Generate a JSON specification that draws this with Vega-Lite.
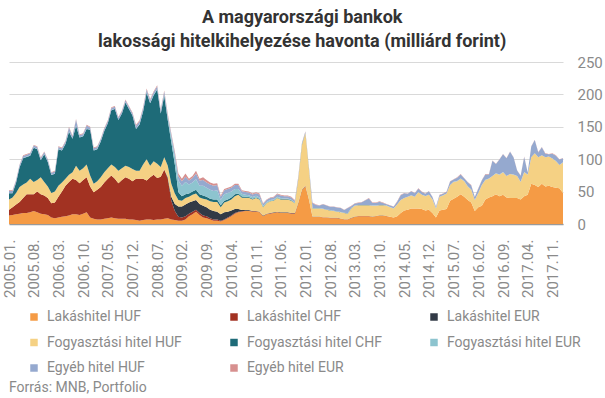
{
  "$schema": "https://vega.github.io/schema/vega-lite/v6.json",
  "background": "white",
  "padding": {"left": 2, "top": 9, "right": 0, "bottom": 0},
  "title": {
    "text": ["A magyarországi bankok", "lakossági hitelkihelyezése havonta (milliárd forint)"],
    "font": "Roboto", "fontSize": 18, "fontWeight": "bold", "color": "#333333",
    "lineHeight": 24, "anchor": "middle", "frame": "bounds", "offset": 4
  },
  "spacing": 6,
  "resolve": {"legend": {"color": "independent"}, "scale": {"color": "independent"}},
  "vconcat": [
    {
      "width": 554,
      "height": 162,
      "data": {"values": [
        {"d":"2005.01.","a":13,"b":9,"c":0,"e":16,"f":9.5,"g":0.5,"h":3,"i":1},
        {"d":"2005.02.","a":14,"b":12,"c":0,"e":15,"f":6.5,"g":0.5,"h":3,"i":1},
        {"d":"2005.03.","a":15,"b":15,"c":0,"e":18,"f":15.5,"g":0.5,"h":3,"i":1},
        {"d":"2005.04.","a":16,"b":18,"c":0,"e":23,"f":30.5,"g":0.5,"h":3,"i":1},
        {"d":"2005.05.","a":17,"b":23,"c":0,"e":21,"f":40.5,"g":0.5,"h":3,"i":1},
        {"d":"2005.06.","a":17,"b":29,"c":0,"e":18,"f":39.5,"g":0.5,"h":3,"i":1},
        {"d":"2005.07.","a":18,"b":28,"c":0,"e":24,"f":35.5,"g":0.5,"h":3,"i":1},
        {"d":"2005.08.","a":20,"b":26,"c":0,"e":19,"f":52.5,"g":0.5,"h":3,"i":1},
        {"d":"2005.09.","a":18,"b":32,"c":0,"e":18,"f":47.5,"g":0.5,"h":3,"i":1},
        {"d":"2005.10.","a":16,"b":30,"c":0,"e":26,"f":26.5,"g":0.5,"h":3,"i":1},
        {"d":"2005.11.","a":15,"b":29,"c":0,"e":21,"f":42.5,"g":0.5,"h":3,"i":1},
        {"d":"2005.12.","a":14,"b":26,"c":0,"e":18,"f":37.5,"g":0.5,"h":3,"i":1},
        {"d":"2006.01.","a":10,"b":22,"c":0,"e":16,"f":27.5,"g":0.5,"h":3,"i":1},
        {"d":"2006.02.","a":9,"b":24,"c":0,"e":17,"f":27.5,"g":0.5,"h":3,"i":1},
        {"d":"2006.03.","a":10,"b":32,"c":0,"e":17,"f":56.5,"g":0.5,"h":3,"i":1},
        {"d":"2006.04.","a":11,"b":39,"c":0,"e":14,"f":49.5,"g":0.5,"h":3,"i":1},
        {"d":"2006.05.","a":12,"b":47,"c":0,"e":11,"f":53.5,"g":0.5,"h":3,"i":1},
        {"d":"2006.06.","a":13,"b":52,"c":0,"e":11,"f":66.5,"g":0.5,"h":6,"i":1},
        {"d":"2006.07.","a":15,"b":55,"c":0,"e":10,"f":51.5,"g":0.5,"h":3,"i":1},
        {"d":"2006.08.","a":15,"b":53,"c":0,"e":22,"f":61.5,"g":0.5,"h":9,"i":1},
        {"d":"2006.09.","a":14,"b":49,"c":0,"e":19,"f":51.5,"g":0.5,"h":3,"i":1},
        {"d":"2006.10.","a":16,"b":52,"c":0,"e":18,"f":49.5,"g":0.5,"h":3,"i":1},
        {"d":"2006.11.","a":18,"b":54,"c":0,"e":20,"f":54.5,"g":0.5,"h":5,"i":1},
        {"d":"2006.12.","a":10,"b":48,"c":0,"e":17,"f":70.5,"g":0.5,"h":3,"i":1},
        {"d":"2007.01.","a":8,"b":41,"c":0,"e":13,"f":51.5,"g":0.5,"h":3,"i":1},
        {"d":"2007.02.","a":7,"b":46,"c":0,"e":13,"f":49.5,"g":0.5,"h":3,"i":1},
        {"d":"2007.03.","a":7,"b":50,"c":0,"e":15,"f":55.5,"g":0.5,"h":3,"i":1},
        {"d":"2007.04.","a":8,"b":56,"c":0,"e":16,"f":63.5,"g":0.5,"h":3,"i":1},
        {"d":"2007.05.","a":9,"b":61,"c":0,"e":16,"f":69.5,"g":0.5,"h":3,"i":1},
        {"d":"2007.06.","a":10,"b":65,"c":0,"e":17,"f":83.5,"g":0.5,"h":3,"i":1},
        {"d":"2007.07.","a":9,"b":61,"c":0,"e":18,"f":89.5,"g":0.5,"h":3,"i":1},
        {"d":"2007.08.","a":8,"b":55,"c":0,"e":19,"f":78.5,"g":0.5,"h":3,"i":1},
        {"d":"2007.09.","a":8,"b":60,"c":0,"e":18,"f":84.5,"g":0.5,"h":3,"i":1},
        {"d":"2007.10.","a":8,"b":64,"c":0,"e":18,"f":97.5,"g":0.5,"h":3,"i":1},
        {"d":"2007.11.","a":7,"b":63,"c":0,"e":18,"f":89.5,"g":0.5,"h":3,"i":1},
        {"d":"2007.12.","a":7,"b":59,"c":0,"e":19,"f":82.5,"g":0.5,"h":3,"i":1},
        {"d":"2008.01.","a":6,"b":64,"c":0,"e":12,"f":64.5,"g":1,"h":4,"i":1.5},
        {"d":"2008.02.","a":5,"b":65,"c":0,"e":12,"f":71.5,"g":1,"h":4,"i":1.5},
        {"d":"2008.03.","a":6,"b":64,"c":0,"e":22,"f":81.5,"g":1,"h":4,"i":1.5},
        {"d":"2008.04.","a":7,"b":60,"c":0,"e":33,"f":102.5,"g":1,"h":4,"i":1.5},
        {"d":"2008.05.","a":7,"b":65,"c":0,"e":18,"f":96.5,"g":1,"h":4,"i":1.5},
        {"d":"2008.06.","a":6,"b":70,"c":0,"e":21,"f":101.5,"g":1,"h":4,"i":1.5},
        {"d":"2008.07.","a":7,"b":64,"c":0,"e":22,"f":114.5,"g":1,"h":4,"i":1.5},
        {"d":"2008.08.","a":7,"b":66,"c":0,"e":15,"f":82.5,"g":1,"h":4,"i":1.5},
        {"d":"2008.09.","a":8,"b":76,"c":0,"e":19,"f":95,"g":2,"h":4.5,"i":1.5},
        {"d":"2008.10.","a":9,"b":61,"c":2,"e":18,"f":70,"g":4,"h":4,"i":2},
        {"d":"2008.11.","a":7,"b":29,"c":6,"e":20,"f":64,"g":8,"h":4,"i":2},
        {"d":"2008.12.","a":6,"b":14,"c":11,"e":16,"f":45,"g":12,"h":5,"i":3},
        {"d":"2009.01.","a":5,"b":6,"c":16,"e":10,"f":12,"g":18,"h":7,"i":4},
        {"d":"2009.02.","a":5,"b":5,"c":17,"e":9,"f":7,"g":16,"h":7,"i":4},
        {"d":"2009.03.","a":7,"b":5,"c":18,"e":10,"f":6,"g":19,"h":8,"i":5},
        {"d":"2009.04.","a":12,"b":4,"c":17,"e":9,"f":5,"g":14,"h":6,"i":3},
        {"d":"2009.05.","a":15,"b":4,"c":16,"e":10,"f":5,"g":14,"h":7,"i":3},
        {"d":"2009.06.","a":19,"b":3,"c":15,"e":10,"f":6,"g":16,"h":9,"i":4},
        {"d":"2009.07.","a":14,"b":3,"c":14,"e":10,"f":5,"g":13,"h":8,"i":3},
        {"d":"2009.08.","a":10,"b":3,"c":15,"e":11,"f":5,"g":15,"h":9,"i":4},
        {"d":"2009.09.","a":9,"b":3,"c":14,"e":12,"f":4,"g":14,"h":8,"i":4},
        {"d":"2009.10.","a":7,"b":2,"c":13,"e":13,"f":4,"g":14,"h":8,"i":3},
        {"d":"2009.11.","a":5,"b":2,"c":13,"e":14,"f":4,"g":13,"h":8,"i":3},
        {"d":"2009.12.","a":5,"b":2,"c":12,"e":15,"f":4,"g":14,"h":8,"i":3},
        {"d":"2010.01.","a":4,"b":1,"c":10,"e":11,"f":3,"g":8,"h":5,"i":2},
        {"d":"2010.02.","a":6,"b":1,"c":11,"e":15,"f":3,"g":10,"h":6,"i":2},
        {"d":"2010.03.","a":9,"b":1,"c":9,"e":16,"f":3,"g":10,"h":6,"i":2},
        {"d":"2010.04.","a":12,"b":1,"c":8,"e":17,"f":3,"g":9,"h":6,"i":2},
        {"d":"2010.05.","a":16,"b":1,"c":6,"e":20,"f":3,"g":8,"h":6,"i":2},
        {"d":"2010.06.","a":18,"b":1,"c":4,"e":22,"f":2,"g":7,"h":6,"i":2},
        {"d":"2010.07.","a":19,"b":0.5,"c":2,"e":19,"f":2,"g":4,"h":4,"i":1.5},
        {"d":"2010.08.","a":20,"b":0.5,"c":1,"e":19,"f":1.5,"g":3,"h":4.5,"i":1.5},
        {"d":"2010.09.","a":20,"b":0.5,"c":1,"e":19,"f":1,"g":3,"h":4,"i":1.5},
        {"d":"2010.10.","a":19,"b":0.5,"c":0.5,"e":18,"f":1,"g":2.5,"h":4,"i":1.5},
        {"d":"2010.11.","a":19,"b":0.5,"c":0.5,"e":20,"f":1,"g":2.5,"h":4,"i":1.5},
        {"d":"2010.12.","a":18,"b":0.5,"c":0.5,"e":19,"f":1,"g":2,"h":4.5,"i":1.5},
        {"d":"2011.01.","a":12,"b":0.5,"c":0.5,"e":13,"f":0.5,"g":1.5,"h":3,"i":1},
        {"d":"2011.02.","a":15,"b":0.5,"c":0.5,"e":16,"f":0.5,"g":1.5,"h":3,"i":1},
        {"d":"2011.03.","a":16,"b":0.5,"c":0.5,"e":18,"f":0.5,"g":1.5,"h":3,"i":1},
        {"d":"2011.04.","a":17,"b":0.5,"c":0.5,"e":18,"f":0.5,"g":1.5,"h":3,"i":1},
        {"d":"2011.05.","a":18,"b":0.5,"c":0.5,"e":21,"f":0.5,"g":1.5,"h":4,"i":1},
        {"d":"2011.06.","a":17,"b":0.5,"c":0.5,"e":20,"f":0.5,"g":1.5,"h":4,"i":1},
        {"d":"2011.07.","a":17,"b":0.5,"c":0.5,"e":20,"f":0.5,"g":1,"h":3.5,"i":1},
        {"d":"2011.08.","a":17,"b":0.5,"c":0.5,"e":20,"f":0.5,"g":1,"h":3.5,"i":1},
        {"d":"2011.09.","a":16,"b":0.5,"c":0.5,"e":19,"f":0.5,"g":1,"h":3.5,"i":1},
        {"d":"2011.10.","a":16,"b":0.5,"c":0.5,"e":15,"f":0.5,"g":1,"h":2.5,"i":1},
        {"d":"2011.11.","a":32,"b":0.5,"c":0.5,"e":37,"f":0.5,"g":0.5,"h":2,"i":1},
        {"d":"2011.12.","a":52,"b":0.5,"c":0.5,"e":69,"f":0.5,"g":0.5,"h":1.5,"i":0.5},
        {"d":"2012.01.","a":58,"b":0.5,"c":0.5,"e":81,"f":0.5,"g":0.5,"h":1.5,"i":0.5},
        {"d":"2012.02.","a":37,"b":0.5,"c":0.5,"e":47,"f":0.5,"g":0.5,"h":2,"i":0.5},
        {"d":"2012.03.","a":11,"b":0.3,"c":0.2,"e":12.5,"f":0.2,"g":0.3,"h":8,"i":0.5},
        {"d":"2012.04.","a":11,"b":0.3,"c":0.2,"e":12.5,"f":0.2,"g":0.3,"h":5,"i":0.5},
        {"d":"2012.05.","a":11,"b":0.3,"c":0.2,"e":12.5,"f":0.2,"g":0.3,"h":4,"i":0.5},
        {"d":"2012.06.","a":10,"b":0.3,"c":0.2,"e":12.5,"f":0.2,"g":0.3,"h":7,"i":0.5},
        {"d":"2012.07.","a":10,"b":0.3,"c":0.2,"e":11.5,"f":0.2,"g":0.3,"h":6,"i":0.5},
        {"d":"2012.08.","a":9,"b":0.3,"c":0.2,"e":11.5,"f":0.2,"g":0.3,"h":5,"i":0.5},
        {"d":"2012.09.","a":9,"b":0.3,"c":0.2,"e":10.5,"f":0.2,"g":0.3,"h":6,"i":0.5},
        {"d":"2012.10.","a":9,"b":0.3,"c":0.2,"e":9.5,"f":0.2,"g":0.3,"h":6,"i":0.5},
        {"d":"2012.11.","a":8,"b":0.3,"c":0.2,"e":9.5,"f":0.2,"g":0.3,"h":6,"i":0.5},
        {"d":"2012.12.","a":7,"b":0.3,"c":0.2,"e":9.5,"f":0.2,"g":0.3,"h":4,"i":0.5},
        {"d":"2013.01.","a":7,"b":0.3,"c":0.2,"e":8.5,"f":0.2,"g":0.3,"h":8,"i":0.5},
        {"d":"2013.02.","a":9,"b":0.3,"c":0.2,"e":14.5,"f":0.2,"g":0.3,"h":3,"i":0.5},
        {"d":"2013.03.","a":11,"b":0.3,"c":0.2,"e":16.5,"f":0.2,"g":0.3,"h":3,"i":0.5},
        {"d":"2013.04.","a":12,"b":0.3,"c":0.2,"e":16.5,"f":0.2,"g":0.3,"h":3,"i":0.5},
        {"d":"2013.05.","a":12,"b":0.3,"c":0.2,"e":16.5,"f":0.2,"g":0.3,"h":4,"i":0.5},
        {"d":"2013.06.","a":12,"b":0.3,"c":0.2,"e":16.5,"f":0.2,"g":0.3,"h":7,"i":0.5},
        {"d":"2013.07.","a":12,"b":0.3,"c":0.2,"e":16.5,"f":0.2,"g":0.3,"h":10,"i":0.5},
        {"d":"2013.08.","a":11,"b":0.3,"c":0.2,"e":16.5,"f":0.2,"g":0.3,"h":4,"i":0.5},
        {"d":"2013.09.","a":12,"b":0.3,"c":0.2,"e":15.5,"f":0.2,"g":0.3,"h":4,"i":0.5},
        {"d":"2013.10.","a":13,"b":0.3,"c":0.2,"e":15.5,"f":0.2,"g":0.3,"h":5,"i":0.5},
        {"d":"2013.11.","a":13,"b":0.3,"c":0.2,"e":15.5,"f":0.2,"g":0.3,"h":3,"i":0.5},
        {"d":"2013.12.","a":12,"b":0.3,"c":0.2,"e":15.5,"f":0.2,"g":0.3,"h":2,"i":0.5},
        {"d":"2014.01.","a":11,"b":0,"c":0,"e":15,"f":0,"g":0.2,"h":2.3,"i":0.5},
        {"d":"2014.02.","a":10,"b":0,"c":0,"e":14,"f":0,"g":0.2,"h":2.3,"i":0.5},
        {"d":"2014.03.","a":12,"b":0,"c":0,"e":18,"f":0,"g":0.2,"h":4.3,"i":0.5},
        {"d":"2014.04.","a":17,"b":0,"c":0,"e":20,"f":0,"g":0.2,"h":7.3,"i":0.5},
        {"d":"2014.05.","a":21,"b":0,"c":0,"e":19,"f":0,"g":0.2,"h":7.3,"i":0.5},
        {"d":"2014.06.","a":22,"b":0,"c":0,"e":20,"f":0,"g":0.2,"h":4.3,"i":0.5},
        {"d":"2014.07.","a":24,"b":0,"c":0,"e":20,"f":0,"g":0.2,"h":6.3,"i":0.5},
        {"d":"2014.08.","a":24,"b":0,"c":0,"e":18,"f":0,"g":0.2,"h":5.3,"i":0.5},
        {"d":"2014.09.","a":24,"b":0,"c":0,"e":25,"f":0,"g":0.2,"h":5.3,"i":0.5},
        {"d":"2014.10.","a":23,"b":0,"c":0,"e":22,"f":0,"g":0.2,"h":4.3,"i":0.5},
        {"d":"2014.11.","a":21,"b":0,"c":0,"e":22,"f":0,"g":0.2,"h":3.3,"i":0.5},
        {"d":"2014.12.","a":22,"b":0,"c":0,"e":23,"f":0,"g":0.2,"h":5.3,"i":0.5},
        {"d":"2015.01.","a":17,"b":0,"c":0,"e":21,"f":0,"g":0.2,"h":3.3,"i":0.5},
        {"d":"2015.02.","a":10,"b":0,"c":0,"e":14,"f":0,"g":0.2,"h":2.3,"i":0.5},
        {"d":"2015.03.","a":21,"b":0,"c":0,"e":21,"f":0,"g":0.2,"h":2.3,"i":0.5},
        {"d":"2015.04.","a":22,"b":0,"c":0,"e":22,"f":0,"g":0.2,"h":2.3,"i":0.5},
        {"d":"2015.05.","a":23,"b":0,"c":0,"e":24,"f":0,"g":0.2,"h":2.3,"i":0.5},
        {"d":"2015.06.","a":36,"b":0,"c":0,"e":24,"f":0,"g":0.2,"h":5.3,"i":0.5},
        {"d":"2015.07.","a":39,"b":0,"c":0,"e":26,"f":0,"g":0.2,"h":3.3,"i":0.5},
        {"d":"2015.08.","a":42,"b":0,"c":0,"e":24,"f":0,"g":0.2,"h":5.3,"i":0.5},
        {"d":"2015.09.","a":46,"b":0,"c":0,"e":24,"f":0,"g":0.2,"h":6.3,"i":0.5},
        {"d":"2015.10.","a":42,"b":0,"c":0,"e":24,"f":0,"g":0.2,"h":4.3,"i":0.5},
        {"d":"2015.11.","a":37,"b":0,"c":0,"e":21,"f":0,"g":0.2,"h":6.3,"i":0.5},
        {"d":"2015.12.","a":33,"b":0,"c":0,"e":20,"f":0,"g":0.2,"h":6.3,"i":0.5},
        {"d":"2016.01.","a":20,"b":0,"c":0,"e":17,"f":0,"g":0.2,"h":4.3,"i":0.5},
        {"d":"2016.02.","a":26,"b":0,"c":0,"e":22,"f":0,"g":0.2,"h":6.3,"i":0.5},
        {"d":"2016.03.","a":28,"b":0,"c":0,"e":32,"f":0,"g":0.2,"h":7.3,"i":0.5},
        {"d":"2016.04.","a":38,"b":0,"c":0,"e":30,"f":0,"g":0.2,"h":8.3,"i":0.5},
        {"d":"2016.05.","a":41,"b":0,"c":0,"e":29,"f":0,"g":0.2,"h":6.3,"i":0.5},
        {"d":"2016.06.","a":43,"b":0,"c":0,"e":31,"f":0,"g":0.2,"h":23.3,"i":0.5},
        {"d":"2016.07.","a":46,"b":0,"c":0,"e":32,"f":0,"g":0.2,"h":14.3,"i":0.5},
        {"d":"2016.08.","a":43,"b":0,"c":0,"e":33,"f":0,"g":0.2,"h":23.3,"i":0.5},
        {"d":"2016.09.","a":45,"b":0,"c":0,"e":35,"f":0,"g":0.2,"h":27.3,"i":0.5},
        {"d":"2016.10.","a":41,"b":0,"c":0,"e":33,"f":0,"g":0.2,"h":27.3,"i":0.5},
        {"d":"2016.11.","a":40,"b":0,"c":0,"e":37,"f":0,"g":0.2,"h":34.3,"i":0.5},
        {"d":"2016.12.","a":40,"b":0,"c":0,"e":36,"f":0,"g":0.2,"h":26.3,"i":0.5},
        {"d":"2017.01.","a":40,"b":0,"c":0,"e":34,"f":0,"g":0.2,"h":8.3,"i":0.5},
        {"d":"2017.02.","a":38,"b":0,"c":0,"e":27,"f":0,"g":0.2,"h":9.3,"i":0.5},
        {"d":"2017.03.","a":43,"b":0,"c":0,"e":37,"f":0,"g":0.2,"h":23.3,"i":0.5},
        {"d":"2017.04.","a":45,"b":0,"c":0,"e":31,"f":0,"g":0.2,"h":3.3,"i":0.5},
        {"d":"2017.05.","a":62,"b":0,"c":0,"e":41,"f":0,"g":0.2,"h":16.3,"i":0.5},
        {"d":"2017.06.","a":60,"b":0,"c":0,"e":49,"f":0,"g":0.2,"h":20.3,"i":0.5},
        {"d":"2017.07.","a":57,"b":0,"c":0,"e":46,"f":0,"g":0.2,"h":7.3,"i":0.5},
        {"d":"2017.08.","a":62,"b":0,"c":0,"e":44,"f":0,"g":0.2,"h":12.3,"i":0.5},
        {"d":"2017.09.","a":58,"b":0,"c":0,"e":45,"f":0,"g":0.2,"h":5.3,"i":0.5},
        {"d":"2017.10.","a":59,"b":0,"c":0,"e":45,"f":0,"g":0.2,"h":3.3,"i":0.5},
        {"d":"2017.11.","a":57,"b":0,"c":0,"e":44,"f":0,"g":0.2,"h":7.3,"i":0.5},
        {"d":"2017.12.","a":56,"b":0,"c":0,"e":41,"f":0,"g":0.2,"h":8.3,"i":0.5},
        {"d":"2018.01.","a":55,"b":0,"c":0,"e":36,"f":0,"g":0.2,"h":8.3,"i":0.5},
        {"d":"2018.02.","a":48,"b":0,"c":0,"e":47,"f":0,"g":0.2,"h":6.3,"i":0.5}
      ]},
      "transform": [
        {"fold": ["a", "b", "c", "e", "f", "g", "h", "i"], "as": ["k", "v"]},
        {"lookup": "k", "from": {"data": {"values": [
          {"k": "a", "n": "Lakáshitel HUF", "o": 1},
          {"k": "b", "n": "Lakáshitel CHF", "o": 2},
          {"k": "c", "n": "Lakáshitel EUR", "o": 3},
          {"k": "e", "n": "Fogyasztási hitel HUF", "o": 4},
          {"k": "f", "n": "Fogyasztási hitel CHF", "o": 5},
          {"k": "g", "n": "Fogyasztási hitel EUR", "o": 6},
          {"k": "h", "n": "Egyéb hitel HUF", "o": 7},
          {"k": "i", "n": "Egyéb hitel EUR", "o": 8}
        ]}, "key": "k", "fields": ["n", "o"]}}
      ],
      "mark": {"type": "area", "interpolate": "linear"},
      "encoding": {
        "x": {
          "field": "d", "type": "ordinal",
          "scale": {"type": "point", "padding": 0},
          "axis": {
            "title": null,
            "values": ["2005.01.", "2005.08.", "2006.03.", "2006.10.", "2007.05.", "2007.12.", "2008.07.", "2009.02.", "2009.09.", "2010.04.", "2010.11.", "2011.06.", "2012.01.", "2012.08.", "2013.03.", "2013.10.", "2014.05.", "2014.12.", "2015.07.", "2016.02.", "2016.09.", "2017.04.", "2017.11."],
            "labelAngle": -90, "labelFont": "Roboto", "labelFontSize": 15, "labelColor": "#8a8a8a",
            "labelPadding": 15, "ticks": false, "domain": true, "domainColor": "#9a9a9a", "domainWidth": 1.5,
            "grid": false, "labelOverlap": false
          }
        },
        "y": {
          "field": "v", "type": "quantitative", "stack": "zero",
          "scale": {"domain": [0, 250], "nice": false},
          "axis": {
            "title": null, "orient": "right", "values": [0, 50, 100, 150, 200, 250],
            "labelFont": "Roboto", "labelFontSize": 15, "labelColor": "#8a8a8a",
            "labelPadding": 14, "ticks": false, "domain": false,
            "grid": true, "gridColor": "#d9d9d9", "gridWidth": 1
          }
        },
        "color": {
          "field": "n", "type": "nominal",
          "scale": {
            "domain": ["Lakáshitel HUF", "Lakáshitel CHF", "Lakáshitel EUR", "Fogyasztási hitel HUF", "Fogyasztási hitel CHF", "Fogyasztási hitel EUR", "Egyéb hitel HUF", "Egyéb hitel EUR"],
            "range": ["#F59B45", "#A23222", "#323A46", "#F5D184", "#1E6B78", "#8DC4CF", "#95A9CF", "#D7908F"]
          },
          "legend": {
            "title": " ", "titleOrient": "left", "titlePadding": 18, "titleFontSize": 14,
            "orient": "bottom", "direction": "horizontal", "columns": 3,
            "symbolType": "square", "symbolSize": 56, "symbolStrokeWidth": 0,
            "labelFont": "Roboto", "labelFontSize": 14, "labelColor": "#8a8a8a",
            "columnPadding": 45, "rowPadding": 11.5, "labelOffset": 6, "offset": 12, "padding": 0
          }
        },
        "order": {"field": "o", "type": "quantitative", "sort": "ascending"}
      }
    },
    {
      "width": 554,
      "height": 0,
      "data": {"values": []},
      "mark": "text",
      "title": {
        "text": "Forrás: MNB, Portfolio", "orient": "top", "anchor": "start", "frame": "group",
        "font": "Roboto", "fontSize": 14, "fontWeight": "normal", "color": "#8a8a8a", "offset": 0
      }
    }
  ],
  "config": {
    "view": {"stroke": null}
  }
}
